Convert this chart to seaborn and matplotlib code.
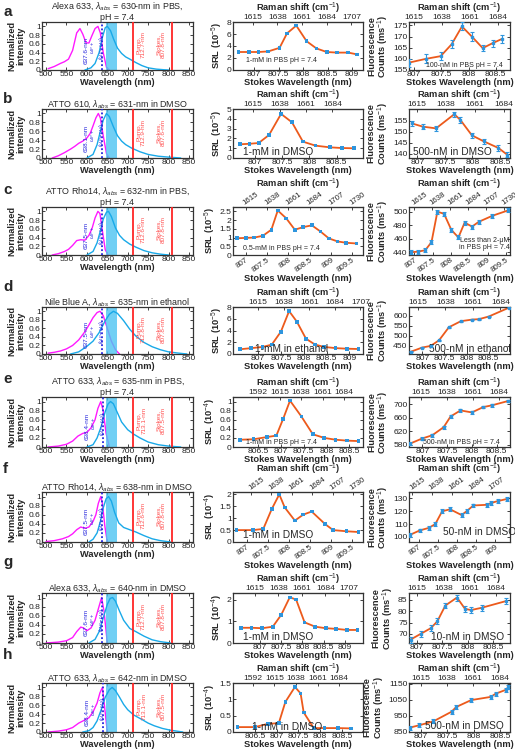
import matplotlib
matplotlib.use("Agg")
import matplotlib.pyplot as plt
import seaborn as sns
from matplotlib.ticker import FuncFormatter

# ---------------- data ----------------
tags = list("abcdefgh")
dye_titles = [
    "Alexa 633, $\\lambda_{abs}$ = 630-nm in PBS,\npH = 7.4",
    "ATTO 610, $\\lambda_{abs}$ = 631-nm in DMSO",
    "ATTO Rho14, $\\lambda_{abs}$ = 632-nm in PBS,\npH = 7.4",
    "Nile Blue A, $\\lambda_{abs}$ = 635-nm in ethanol",
    "ATTO 633, $\\lambda_{abs}$ = 635-nm in PBS,\npH = 7.4",
    "ATTO Rho14, $\\lambda_{abs}$ = 638-nm in DMSO",
    "Alexa 633, $\\lambda_{abs}$ = 640-nm in DMSO",
    "ATTO 633, $\\lambda_{abs}$ = 642-nm in DMSO",
]
pump_nm = [712.7, 712.9, 712.6, 712.8, 713.1, 712.6, 712.7, 713.1]
stokes_nm = [807.8, 807.6, 807.8, 807.8, 807.5, 807.8, 807.8, 807.5]
resonance_nm = [637.6, 638.1, 637.5, 637.5, 638.4, 637.5, 637.6, 638.4]

# absorption (magenta) and emission (cyan) spectra, normalized
abs_wl = [
    [505, 520, 535, 545, 555, 565, 575, 583, 590, 598, 605, 612, 620, 627, 633, 640, 648, 655],
    [515, 530, 545, 560, 570, 580, 590, 600, 608, 615, 622, 628, 633, 640, 648, 655],
    [515, 530, 545, 555, 565, 575, 585, 595, 605, 613, 620, 627, 632, 638, 645, 652],
    [505, 520, 535, 550, 565, 580, 595, 605, 615, 625, 632, 640, 650, 660, 670, 680],
    [505, 530, 550, 565, 578, 590, 600, 610, 620, 627, 634, 640, 647, 655],
    [500, 520, 540, 555, 565, 575, 585, 595, 605, 615, 622, 628, 634, 638, 644, 650],
    [500, 530, 550, 565, 575, 585, 592, 600, 610, 620, 628, 636, 642, 650],
    [505, 530, 550, 565, 580, 595, 605, 615, 625, 632, 638, 643, 650],
]
abs_val = [
    [0.03, 0.08, 0.15, 0.19, 0.25, 0.45, 0.85, 0.95, 0.82, 0.62, 0.62, 0.78, 0.95, 1.0, 0.85, 0.4, 0.06, 0.0],
    [0.0, 0.05, 0.12, 0.2, 0.26, 0.33, 0.38, 0.45, 0.55, 0.72, 0.9, 1.0, 0.9, 0.5, 0.1, 0.0],
    [0.0, 0.03, 0.08, 0.13, 0.22, 0.33, 0.35, 0.34, 0.45, 0.62, 0.85, 1.0, 0.95, 0.55, 0.12, 0.0],
    [0.02, 0.04, 0.07, 0.12, 0.2, 0.33, 0.52, 0.68, 0.85, 0.97, 1.0, 0.9, 0.6, 0.3, 0.1, 0.0],
    [0.0, 0.02, 0.06, 0.13, 0.24, 0.3, 0.32, 0.42, 0.6, 0.85, 1.0, 0.8, 0.3, 0.0],
    [0.01, 0.03, 0.07, 0.12, 0.18, 0.27, 0.33, 0.3, 0.33, 0.45, 0.6, 0.85, 1.0, 0.85, 0.35, 0.0],
    [0.0, 0.02, 0.05, 0.12, 0.25, 0.35, 0.33, 0.27, 0.33, 0.5, 0.75, 1.0, 0.7, 0.0],
    [0.0, 0.02, 0.05, 0.1, 0.2, 0.27, 0.32, 0.45, 0.65, 0.88, 1.0, 0.6, 0.0],
]
em_wl = [
    [595, 610, 620, 630, 638, 645, 650, 658, 665, 675, 685, 695, 705, 720, 735, 750, 770, 790, 800],
    [600, 615, 625, 633, 640, 648, 655, 665, 675, 685, 695, 710, 730, 750, 775, 800, 830],
    [600, 615, 625, 633, 640, 648, 653, 660, 670, 680, 690, 705, 720, 740, 760, 780, 800],
    [560, 580, 600, 615, 630, 645, 655, 665, 675, 690, 705, 720, 740, 760, 780, 800, 825, 845],
    [600, 615, 625, 635, 645, 652, 658, 665, 675, 685, 700, 715, 730, 750, 775, 800, 830],
    [605, 615, 625, 633, 640, 647, 653, 660, 668, 678, 690, 705, 720, 740, 760, 780, 805],
    [605, 620, 630, 640, 650, 657, 663, 670, 680, 690, 705, 720, 740, 760, 780, 805],
    [590, 605, 615, 625, 635, 645, 655, 662, 670, 680, 690, 700, 715, 735, 750, 765, 785, 805, 835],
]
em_val = [
    [0.0, 0.05, 0.15, 0.4, 0.75, 0.97, 1.0, 0.9, 0.72, 0.5, 0.38, 0.3, 0.25, 0.17, 0.1, 0.05, 0.02, 0.005, 0.0],
    [0.0, 0.08, 0.3, 0.6, 0.85, 1.0, 0.93, 0.7, 0.5, 0.38, 0.3, 0.22, 0.14, 0.08, 0.04, 0.02, 0.0],
    [0.0, 0.08, 0.28, 0.55, 0.82, 0.98, 1.0, 0.88, 0.62, 0.45, 0.35, 0.25, 0.18, 0.1, 0.05, 0.02, 0.0],
    [0.0, 0.05, 0.18, 0.3, 0.5, 0.78, 0.93, 1.0, 0.95, 0.78, 0.58, 0.42, 0.27, 0.17, 0.1, 0.05, 0.02, 0.0],
    [0.0, 0.05, 0.2, 0.45, 0.78, 0.95, 1.0, 0.95, 0.75, 0.55, 0.38, 0.28, 0.2, 0.11, 0.05, 0.02, 0.0],
    [0.0, 0.06, 0.2, 0.45, 0.75, 0.95, 1.0, 0.9, 0.65, 0.42, 0.32, 0.27, 0.22, 0.14, 0.07, 0.03, 0.0],
    [0.0, 0.08, 0.25, 0.55, 0.85, 0.98, 1.0, 0.92, 0.7, 0.5, 0.32, 0.25, 0.15, 0.07, 0.03, 0.0],
    [0.0, 0.03, 0.1, 0.25, 0.5, 0.78, 0.95, 1.0, 0.93, 0.78, 0.62, 0.5, 0.38, 0.28, 0.2, 0.14, 0.08, 0.04, 0.0],
]

# SRL spectra (Stokes wavelength, nm)
srl_x = [
    [806.68, 806.9, 807.09, 807.29, 807.52, 807.67, 807.86, 808.07, 808.27, 808.48, 808.69, 808.92, 809.1],
    [806.73, 806.9, 807.07, 807.26, 807.48, 807.68, 807.88, 808.11, 808.37, 808.59, 808.81],
    [806.8, 807.0, 807.2, 807.4, 807.6, 807.75, 807.95, 808.15, 808.35, 808.55, 808.75, 808.95, 809.15, 809.35, 809.6],
    [806.6, 806.85, 807.1, 807.3, 807.5, 807.68, 807.85, 808.05, 808.25, 808.45, 808.7, 808.95, 809.2],
    [806.1, 806.4, 806.7, 806.9, 807.05, 807.2, 807.45, 807.7, 807.95, 808.2, 808.45, 808.7],
    [806.75, 807.15, 807.39, 807.59, 807.77, 807.9, 808.14, 808.34, 808.54, 808.86, 809.05, 809.37, 809.65],
    [806.55, 806.8, 807.05, 807.3, 807.5, 807.7, 807.85, 808.05, 808.3, 808.55, 808.8, 809.05, 809.3],
    [806.1, 806.5, 806.8, 807.05, 807.2, 807.42, 807.55, 807.62, 807.85, 808.1, 808.4, 808.7],
]
srl_y = [
    [3.0, 3.0, 3.0, 3.1, 3.7, 6.1, 7.4, 4.8, 3.6, 3.0, 2.9, 2.9, 2.6],
    [1.4, 1.45, 1.53, 2.35, 4.5, 3.64, 1.67, 1.26, 1.09, 1.02, 0.99],
    [0.96, 0.98, 1.0, 1.1, 1.45, 2.55, 2.1, 1.45, 1.6, 1.7, 1.35, 0.95, 0.78, 0.7, 0.66],
    [0.8, 1.0, 1.2, 1.6, 3.8, 7.3, 5.5, 2.6, 1.6, 1.2, 1.0, 0.9, 0.85],
    [0.16, 0.17, 0.22, 0.25, 0.62, 1.02, 0.67, 0.28, 0.2, 0.16, 0.14, 0.13],
    [0.5, 0.5, 0.55, 1.38, 2.0, 1.45, 0.9, 1.15, 1.28, 0.75, 0.5, 0.45, 0.42],
    [0.7, 0.7, 0.68, 0.75, 1.3, 2.1, 2.0, 0.95, 0.75, 0.68, 0.65, 0.6, 0.6],
    [0.15, 0.15, 0.25, 0.27, 0.92, 1.38, 1.18, 0.6, 0.12, 0.12, 0.12, 0.11],
]
srl_exp = [-5, -5, -5, -5, -4, -4, -4, -4]
srl_notes = ["1-mM in PBS pH = 7.4", "1-mM in DMSO", "0.5-mM in PBS pH = 7.4", "1-mM in ethanol",
             "1-mM in PBS pH = 7.4", "1-mM in DMSO", "1-mM in DMSO", "1-mM in DMSO"]

# fluorescence counts (ms^-1) with error bars
fl_x = [
    [806.91, 807.22, 807.49, 807.69, 807.88, 808.06, 808.26, 808.44, 808.62],
    [806.9, 807.1, 807.34, 807.67, 807.78, 807.99, 808.2, 808.47, 808.63],
    [806.91, 807.1, 807.3, 807.47, 807.63, 807.81, 808.01, 808.2, 808.37, 808.57, 808.75, 809.12, 809.55],
    [806.75, 807.0, 807.19, 807.38, 807.6, 807.87, 808.13, 808.28, 808.5, 808.95],
    [806.75, 806.99, 807.2, 807.43, 807.57, 807.77, 808.0, 808.23, 808.4, 808.73],
    [806.76, 807.02, 807.26, 807.43, 807.61, 807.82, 808.12, 808.25, 808.43, 808.78, 808.9, 809.08, 809.3],
    [806.87, 807.07, 807.27, 807.4, 807.56, 807.79, 807.95, 808.07, 808.28, 808.77],
    [806.79, 806.97, 807.24, 807.58, 807.67, 807.95, 808.32, 808.41, 808.6, 808.65],
]
fl_y = [
    [158.3, 160.0, 161.2, 166.5, 174.5, 170.0, 164.8, 167.0, 169.0],
    [153.9, 152.4, 151.6, 158.1, 155.5, 148.4, 145.7, 142.6, 139.5],
    [440, 441, 443, 455, 500, 497, 473, 462, 484, 478, 485, 494, 502],
    [422, 442, 450, 478, 542, 572, 580, 582, 595, 638],
    [583, 598, 608, 632, 664, 682, 676, 692, 697, 710],
    [101.5, 105, 107, 110, 120, 121.5, 117, 120, 124.5, 125, 126.5, 128, 129.5],
    [67.5, 70, 72.5, 75.5, 82.5, 86, 81, 80.5, 81.5, 84.5],
    [875, 890, 915, 975, 1005, 1048, 1068, 1088, 1112, 1130],
]
fl_err = [
    [1.8, 2.0, 1.8, 1.8, 1.8, 1.8, 1.5, 1.5, 1.8],
    [1.2, 1.2, 1.2, 1.2, 1.2, 1.2, 1.2, 1.2, 1.2],
    [3, 3, 3, 3, 3, 3, 3, 3, 3, 3, 3, 3, 3],
    [3, 3, 3, 3, 3, 3, 3, 3, 3, 3],
    [4, 4, 4, 4, 4, 4, 4, 4, 4, 4],
    [1.5, 1.5, 1.5, 1.5, 1.5, 1.5, 1.5, 1.5, 1.5, 1.5, 1.5, 1.5, 1.5],
    [1.3, 1.3, 1.3, 1.3, 1.3, 1.3, 1.3, 1.3, 1.3, 1.3],
    [12, 12, 12, 12, 12, 12, 12, 12, 12, 12],
]
fl_notes = ["100-nM in PBS pH = 7.4", "500-nM in DMSO", "Less than 2-\u03bcM\nin PBS pH = 7.4",
            "500-nM in ethanol", "500-nM in PBS pH = 7.4", "50-nM in DMSO", "10-nM in DMSO",
            "500-nM in DMSO"]

# axis ranges and ticks
srl_xlim = [(806.57, 809.22), (806.6, 808.98), (806.7, 809.75), (806.45, 809.3),
            (805.95, 808.8), (806.67, 809.76), (806.36, 809.43), (806.0, 808.98)]
srl_xticks = [[807, 807.5, 808, 808.5, 809], [807, 807.5, 808, 808.5],
              [807, 807.5, 808, 808.5, 809, 809.5], [807, 807.5, 808, 808.5, 809],
              [806.5, 807, 807.5, 808, 808.5], [807, 807.5, 808, 808.5, 809, 809.5],
              [807, 807.5, 808, 808.5, 809], [806.5, 807, 807.5, 808, 808.5]]
srl_ylim = [(0, 8), (0, 5), (0, 2.75), (0, 8), (0, 1.1), (0, 2.1), (0, 2.3), (0, 1.5)]
srl_yticks = [[0, 2, 4, 6, 8], [0, 1, 2, 3, 4, 5], [0, 0.5, 1, 1.5, 2, 2.5], [0, 2, 4, 6, 8],
              [0, 0.2, 0.4, 0.6, 0.8, 1], [0, 0.5, 1, 1.5, 2], [0, 1, 2], [0, 0.5, 1, 1.5]]
srl_raman = [[1615, 1638, 1661, 1684, 1707], [1615, 1638, 1661, 1684],
             [1615, 1638, 1661, 1684, 1707, 1730], [1615, 1638, 1661, 1684, 1707],
             [1592, 1615, 1638, 1661, 1684], [1615, 1638, 1661, 1684, 1707, 1730],
             [1615, 1638, 1661, 1684, 1707], [1592, 1615, 1638, 1661, 1684]]
srl_raman_map = [(806.97, 45.7), (806.97, 47.6), (807.0, 46), (807.0, 41),
                 (806.97, 48.7), (807.1, 47.5), (806.88, 41.5), (806.95, 46.5)]

fl_xlim = [(806.91, 808.76), (806.85, 808.68), (806.86, 809.6), (806.7, 808.98),
           (806.73, 808.77), (806.74, 809.39), (806.84, 808.84), (806.78, 808.68)]
fl_xticks = [[807, 807.5, 808, 808.5], [807, 807.5, 808, 808.5],
             [807, 807.5, 808, 808.5, 809, 809.5], [807, 807.5, 808, 808.5],
             [807, 807.5, 808, 808.5], [807, 807.5, 808, 808.5, 809],
             [807, 807.5, 808, 808.5], [807, 807.5, 808, 808.5]]
fl_ylim = [(155, 176.5), (138, 160.5), (436, 507), (410, 642), (573, 722), (96, 135),
           (66, 88), (848, 1155)]
fl_yticks = [[155, 160, 165, 170, 175], [140, 145, 150, 155], [440, 460, 480, 500],
             [450, 500, 550, 600], [580, 620, 660, 700], [100, 110, 120, 130],
             [70, 75, 80, 85], [850, 950, 1050, 1150]]
fl_raman = [[1615, 1638, 1661, 1684], [1615, 1638, 1661, 1684],
            [1615, 1638, 1661, 1684, 1707, 1730], [1615, 1638, 1661, 1684],
            [1615, 1638, 1661, 1684], [1615, 1638, 1661, 1684, 1707],
            [1615, 1638, 1661, 1684], [1615, 1638, 1661, 1684]]
fl_raman_map = [(807.0, 45), (807.0, 44), (807.0, 47), (806.9, 37),
                (806.97, 44), (806.82, 44), (807.0, 44), (807.0, 46.6)]
rotated = [False, False, True, False, False, True, False, False]

# ---------------- layout (pixels) ----------------
W, H = 515, 750
row_top = [22, 109, 207, 307, 397, 492, 593, 683]
row_bot = [70, 158, 255, 354, 447, 542, 643, 732]
tag_y = [12, 99, 190, 287, 379, 469, 562, 655]
col_x = [(42, 193), (233, 363), (409, 510)]
srl_note_pos = [(0.1, 0.12, "left", 5.0), (0.08, 0.03, "left", 7.3), (0.08, 0.07, "left", 5.0),
                (0.45, 0.0, "center", 7.3), (0.1, 0.03, "left", 5.0), (0.08, 0.03, "left", 7.3),
                (0.08, 0.03, "left", 7.3), (0.42, 0.0, "center", 7.3)]
fl_note_pos = [(0.55, 0.02, "center", 5.0), (0.43, 0.02, "center", 7.3), (0.75, 0.08, "center", 5.0),
               (0.6, 0.0, "center", 7.3), (0.52, 0.03, "center", 5.0), (0.7, 0.1, "center", 7.3),
               (0.58, 0.03, "center", 7.3), (0.55, 0.03, "center", 7.3)]

MAGENTA = "#FF19FF"
CYAN = "#19A9E8"
BAND = "#4CC4F2"
RED = "#FF2525"
RED_TXT = "#FF5050"
DOT_BLUE = "#2626DD"
ORANGE = "#EC5A1C"
PT_BLUE = "#2E95DD"
FRAME = "#333333"

sns.set_style("ticks")
plt.rcParams["font.family"] = ["Liberation Sans", "DejaVu Sans"]
plt.rcParams["mathtext.fontset"] = "custom"
plt.rcParams["mathtext.rm"] = "Liberation Sans"
plt.rcParams["mathtext.it"] = "Liberation Sans:italic"
plt.rcParams["mathtext.bf"] = "Liberation Sans:bold"

TICK = 6.1
ROT_TICK = 5.7
LAB = 6.7
fmt = FuncFormatter(lambda v, p: f"{v:g}")


def make_ax(fig, col, row):
    x0, x1 = col_x[col]
    y0, y1 = row_top[row], row_bot[row]
    ax = fig.add_axes([x0 / W, 1 - y1 / H, (x1 - x0) / W, (y1 - y0) / H])
    for s in ax.spines.values():
        s.set_linewidth(0.9)
        s.set_color(FRAME)
    ax.tick_params(direction="in", length=2, width=0.6, labelsize=TICK, pad=1.0,
                   right=True, colors="#222222")
    return ax


def add_raman(ax, i, ticks, mapping):
    w0, k = mapping
    sec = ax.secondary_xaxis("top", functions=(lambda w, w0=w0, k=k: 1615 + (w - w0) * k,
                                               lambda s, w0=w0, k=k: w0 + (s - 1615) / k))
    sec.set_xticks(ticks)
    sec.tick_params(direction="in", length=2, width=0.6, labelsize=TICK, pad=0.5)
    sec.set_xlabel("Raman shift (cm$^{-1}$)", fontsize=LAB, fontweight="bold", labelpad=2.0)
    if rotated[i]:
        plt.setp(sec.get_xticklabels(), rotation=35, ha="left", rotation_mode="anchor",
                 fontsize=ROT_TICK)
    return sec


def finish_x(ax, i):
    ax.xaxis.set_major_formatter(fmt)
    ax.yaxis.set_major_formatter(fmt)
    ax.set_xlabel("Stokes Wavelength (nm)", fontsize=LAB, fontweight="bold", labelpad=0)
    if rotated[i]:
        plt.setp(ax.get_xticklabels(), rotation=35, ha="right", rotation_mode="anchor",
                 fontsize=ROT_TICK)


fig = plt.figure(figsize=(W / 100, H / 100), dpi=100)

for i in range(8):
    fig.text(3 / W, 1 - tag_y[i] / H, tags[i], fontsize=11, fontweight="bold", va="center")

    # ---- column 1: absorption / emission spectra ----
    ax = make_ax(fig, 0, i)
    ax.axvspan(646, 673, color=BAND, alpha=0.8, lw=0, zorder=2.5)
    sns.lineplot(x=abs_wl[i], y=abs_val[i], color=MAGENTA, lw=1.0, ax=ax, zorder=2)
    sns.lineplot(x=em_wl[i], y=em_val[i], color=CYAN, lw=1.0, ax=ax, zorder=3)
    ax.axvline(pump_nm[i], color=RED, lw=1.3, zorder=4)
    ax.axvline(stokes_nm[i], color=RED, lw=1.3, zorder=4)
    ax.axvline(resonance_nm[i], color=DOT_BLUE, lw=1.3, ls=(0, (1, 1.2)), zorder=4)
    ax.text(pump_nm[i] + 20, 0.58, f"Pump,\n{pump_nm[i]}-nm", rotation=90, color=RED_TXT,
            fontsize=4.6, ha="center", va="center", linespacing=1.0)
    ax.text(stokes_nm[i] - 26, 0.58, f"Stokes,\n{stokes_nm[i]}-nm", rotation=90, color=RED_TXT,
            fontsize=4.6, ha="center", va="center", linespacing=1.0)
    ax.text(resonance_nm[i] - 39, 0.45, f"{resonance_nm[i]}-nm", rotation=90, color=DOT_BLUE,
            fontsize=4.6, ha="center", va="center")
    ax.text(resonance_nm[i] - 12, 0.52, "$\\omega_P$ +\n$(\\omega_P - \\omega_S)$", rotation=90,
            color=DOT_BLUE, fontsize=4.0, ha="center", va="center", linespacing=1.0)
    ax.set_xlim(490, 860)
    ax.set_ylim(0, 1.1)
    ax.set_xticks([500, 550, 600, 650, 700, 750, 800, 850])
    ax.set_yticks([0, 0.2, 0.4, 0.6, 0.8, 1])
    ax.tick_params(top=True)
    ax.yaxis.set_major_formatter(fmt)
    ax.set_xlabel("Wavelength (nm)", fontsize=LAB, fontweight="bold", labelpad=0)
    ax.set_ylabel("Normalized\nintensity", fontsize=LAB, fontweight="bold", labelpad=2,
                  linespacing=1.0)
    ax.set_title(dye_titles[i], fontsize=6.4, pad=1.5, linespacing=1.15)

    # ---- column 2: SRL ----
    ax = make_ax(fig, 1, i)
    sns.lineplot(x=srl_x[i], y=srl_y[i], color=ORANGE, lw=1.3, ax=ax, zorder=2)
    sns.scatterplot(x=srl_x[i], y=srl_y[i], color=PT_BLUE, s=7, marker="s", edgecolor="none",
                    ax=ax, zorder=3)
    ax.set_xlim(*srl_xlim[i])
    ax.set_ylim(*srl_ylim[i])
    ax.set_xticks(srl_xticks[i])
    ax.set_yticks(srl_yticks[i])
    ax.set_ylabel(f"SRL (10$^{{{srl_exp[i]}}}$)", fontsize=LAB, fontweight="bold", labelpad=1.5)
    finish_x(ax, i)
    add_raman(ax, i, srl_raman[i], srl_raman_map[i])
    nx, ny, ha, fs = srl_note_pos[i]
    ax.text(nx, ny, srl_notes[i], transform=ax.transAxes, fontsize=fs, ha=ha, va="bottom")

    # ---- column 3: fluorescence ----
    ax = make_ax(fig, 2, i)
    sns.lineplot(x=fl_x[i], y=fl_y[i], color=ORANGE, lw=1.3, ax=ax, zorder=2)
    ax.errorbar(fl_x[i], fl_y[i], yerr=fl_err[i], fmt="s", ms=1.8, color=PT_BLUE,
                elinewidth=0.8, capsize=1.5, capthick=0.8, zorder=3)
    ax.set_xlim(*fl_xlim[i])
    ax.set_ylim(*fl_ylim[i])
    ax.set_xticks(fl_xticks[i])
    ax.set_yticks(fl_yticks[i])
    ax.set_ylabel("Fluorescence\nCounts (ms$^{-1}$)", fontsize=LAB, fontweight="bold",
                  labelpad=1.5, linespacing=1.0)
    finish_x(ax, i)
    add_raman(ax, i, fl_raman[i], fl_raman_map[i])
    nx, ny, ha, fs = fl_note_pos[i]
    ax.text(nx, ny, fl_notes[i], transform=ax.transAxes, fontsize=fs, ha=ha, va="bottom",
            linespacing=1.1)

fig.savefig("out.png", dpi=100)
